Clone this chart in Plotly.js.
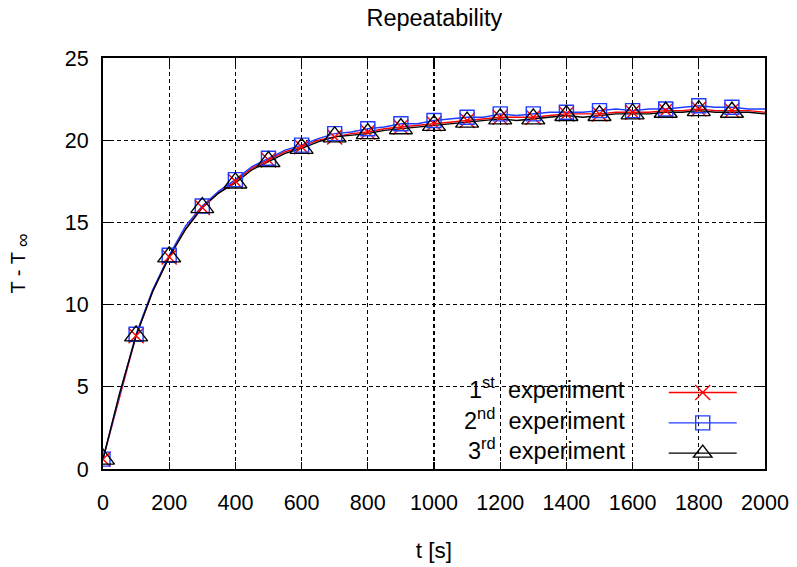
<!DOCTYPE html>
<html>
<head>
<meta charset="utf-8">
<script src="https://cdn.plot.ly/plotly-3.0.1.min.js"></script>
<style>html,body{margin:0;padding:0;background:#fff;}#chart{width:797px;height:567px;}</style>
</head>
<body>
<div id="chart"></div>
<script>
// time samples [s]
var timeS = [0,50,100,150,200,250,300,350,400,450,500,550,600,650,700,750,800,850,900,950,1000,
  1050,1100,1150,1200,1250,1300,1350,1400,1450,1500,1550,1600,1650,1700,1750,1800,1850,1900,1950,2000];
// T - T_inf for each experiment
var exp1 = [0.6,4.4,8.1,10.8,12.9,14.6,15.9,16.8,17.5,18.3,18.8,19.3,19.6,20.0,20.2,20.4,20.5,20.7,20.8,20.9,21.0,
  21.1,21.2,21.3,21.4,21.4,21.4,21.5,21.6,21.6,21.6,21.7,21.7,21.7,21.8,21.8,21.9,21.8,21.8,21.8,21.7];
var exp2 = [0.6,4.5,8.2,10.9,13.0,14.8,16.0,16.9,17.6,18.4,18.9,19.4,19.7,20.1,20.4,20.5,20.7,20.8,21.0,21.0,21.2,
  21.3,21.4,21.4,21.6,21.5,21.6,21.7,21.7,21.7,21.8,21.9,21.8,21.9,21.9,22.0,22.1,22.0,22.0,21.9,21.9];
var exp3 = [0.6,4.6,8.1,10.8,12.9,14.6,15.9,16.8,17.4,18.2,18.7,19.2,19.5,19.9,20.2,20.3,20.4,20.6,20.7,20.8,20.9,
  21.0,21.1,21.2,21.3,21.2,21.3,21.4,21.5,21.4,21.5,21.6,21.6,21.6,21.7,21.7,21.8,21.7,21.7,21.7,21.6];
var seriesNames = ['1<sup>st</sup>  experiment','2<sup>nd</sup>  experiment','3<sup>rd</sup>  experiment'];
var markerEvery = 100; // markers drawn every 100 s, up to 1900 s
var markerMax = 1900;

var colors = ['#ff0000','#1f3cff','#000000'];
var symbols = ['x-thin-open','square-open','triangle-up-open'];
var msizes = [15,14,20];
var allY = [exp1, exp2, exp3];
var FONT = 'Liberation Sans, Arial, sans-serif';

var traces = [];
allY.forEach(function(y, i){
  traces.push({x: timeS, y: y, mode: 'lines', type: 'scatter', showlegend: false,
    line: {color: colors[i], width: 1.4}, hoverinfo: 'skip'});
});
allY.forEach(function(y, i){
  var mx = [], my = [];
  timeS.forEach(function(t, k){
    if (t % markerEvery === 0 && t <= markerMax) {
      mx.push(t); my.push(y[k]);
      mx.push(t); my.push(null);
    }
  });
  traces.push({x: mx, y: my, mode: 'lines+markers', type: 'scatter', name: ' ',
    connectgaps: false,
    line: {color: colors[i], width: 1.4},
    marker: {symbol: symbols[i], size: msizes[i], color: colors[i], line: {color: colors[i], width: 1.4}}});
});

var annotations = seriesNames.map(function(n, i){
  return {text: n, xref: 'paper', yref: 'paper', x: 0.792, y: [0.197, 0.122, 0.049][i],
    xanchor: 'right', yanchor: 'middle', showarrow: false,
    font: {family: FONT, size: 23.5, color: '#000'}};
});

var axisCommon = {
  showline: true, mirror: 'ticks', linecolor: '#000', linewidth: 2,
  ticks: 'inside', ticklen: 7, tickcolor: '#000', tickwidth: 1.2,
  showgrid: true, gridcolor: '#000', gridwidth: 1.4, griddash: '4px,3px',
  zeroline: false,
  tickfont: {family: FONT, size: 21.5, color: '#000'}
};

var layout = {
  width: 797, height: 567,
  margin: {l: 103, r: 32, t: 58, b: 98},
  paper_bgcolor: '#fff', plot_bgcolor: '#fff',
  title: {text: 'Repeatability', x: 0.545, xanchor: 'center', y: 0.968, yanchor: 'middle',
    font: {family: FONT, size: 23.5, color: '#000'}},
  xaxis: Object.assign({}, axisCommon, {range: [0, 2000], dtick: 200, tick0: 0,
    ticklabelstandoff: 13,
    title: {text: 't [s]', standoff: 28, font: {family: FONT, size: 22.5, color: '#000'}}}),
  yaxis: Object.assign({}, axisCommon, {range: [0, 25], dtick: 5, tick0: 0,
    ticklabelstandoff: 8,
    title: {text: 'T - T <sub><span style="font-size:19px">∞</span></sub>', standoff: 34, font: {family: FONT, size: 20, color: '#000'}}}),
  legend: {x: 0.847, y: 0.235, xanchor: 'left', yanchor: 'top', bgcolor: 'rgba(0,0,0,0)',
    itemwidth: 68, tracegroupgap: 0,
    font: {family: FONT, size: 21, color: '#000'}},
  annotations: annotations,
  showlegend: true
};

Plotly.newPlot('chart', traces, layout, {staticPlot: true});
</script>
</body>
</html>
